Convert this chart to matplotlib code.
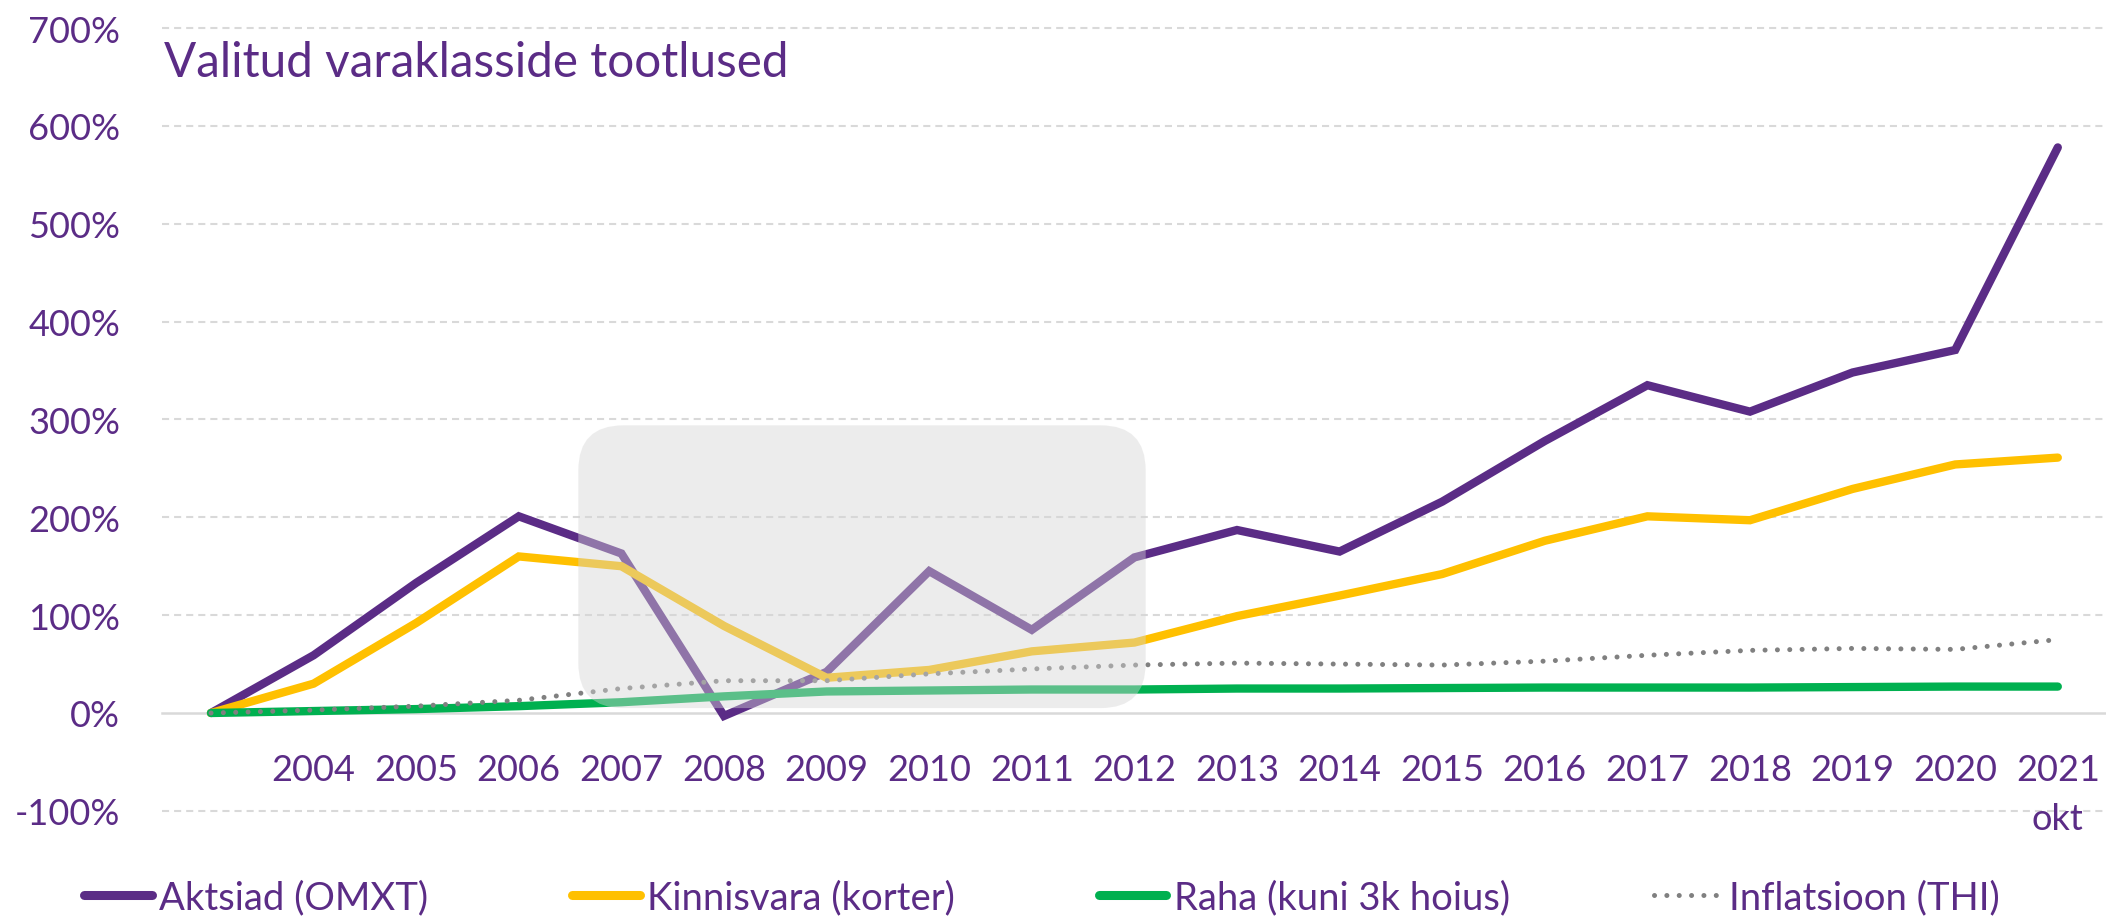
import numpy as np
import matplotlib
matplotlib.use("Agg")
import matplotlib.pyplot as plt
from matplotlib.patches import FancyBboxPatch

plt.rcParams['font.family'] = ['Lato', 'DejaVu Sans']

# ---- data ----
years = ['2003', '2004', '2005', '2006', '2007', '2008', '2009', '2010', '2011', '2012',
         '2013', '2014', '2015', '2016', '2017', '2018', '2019', '2020', '2021\nokt']
aktsiad = [0, 59, 133, 201, 163, -3, 42, 145, 85, 159, 187, 165, 216, 278, 335, 308, 348, 371, 578]
kinnisvara = [0, 30, 92, 160, 150, 89, 36, 44, 63, 72, 99, 120, 142, 176, 201, 197, 229, 254, 261]
raha = [0, 2, 4, 7, 11, 17, 22, 23, 24, 24, 25, 25, 25.5, 26, 26, 26, 26.5, 27, 27]
inflatsioon = [0, 3, 7, 13, 25, 33, 33, 40, 45, 49, 51, 50, 49, 53, 59, 64, 66, 65, 75]
series_names = ['Aktsiad (OMXT)', 'Kinnisvara (korter)', 'Raha (kuni 3k hoius)', 'Inflatsioon (THI)']
yticks = [-100, 0, 100, 200, 300, 400, 500, 600, 700]
title = 'Valitud varaklasside tootlused'

PURPLE = '#5B2C86'
YELLOW = '#FFC000'
GREEN = '#00B050'
GRAY = '#808080'
GRID = '#D9D9D9'

W, H = 2106, 920
fig = plt.figure(figsize=(W / 100, H / 100), dpi=100)

x = np.arange(len(years))
px_per_x = 102.6
x0_px = 211
ax_left_px, ax_right_px = 162, 2106
xlim = (-(x0_px - ax_left_px) / px_per_x, (ax_right_px - x0_px) / px_per_x)
px_per_y = 0.9785
y0_px = 714
ylim = (-103, 703)
top_px = y0_px - ylim[1] * px_per_y
bot_px = y0_px - ylim[0] * px_per_y
ax = fig.add_axes([ax_left_px / W, 1 - bot_px / H, (ax_right_px - ax_left_px) / W, (bot_px - top_px) / H])
ax.set_xlim(*xlim)
ax.set_ylim(*ylim)

# gridlines (dashed), zero line solid
for yv in yticks:
    if yv == 0:
        continue
    ax.axhline(yv, color=GRID, lw=1.5, ls=(0, (3.4, 2.4)), zorder=0)

for s in ['top', 'right', 'left']:
    ax.spines[s].set_visible(False)
ax.spines['bottom'].set_position(('data', 0))
ax.spines['bottom'].set_color(GRID)
ax.spines['bottom'].set_linewidth(1.8)
ax.spines['bottom'].set_zorder(0.5)

lw = 6
ax.plot(x, aktsiad, color=PURPLE, lw=lw, solid_capstyle='round', solid_joinstyle='miter', zorder=2, label=series_names[0])
ax.plot(x, kinnisvara, color=YELLOW, lw=lw, solid_capstyle='round', solid_joinstyle='miter', zorder=3, label=series_names[1])
ax.plot(x, raha, color=GREEN, lw=lw, solid_capstyle='round', zorder=4, label=series_names[2])
ax.plot(x, inflatsioon, color=GRAY, lw=3.6, ls=(0, (0.01, 2.46)), dash_capstyle='round', zorder=5, label=series_names[3])

# translucent rounded highlight box
r_px = 45
bx0, bx1, by0, by1 = 3.58, 9.11, 5, 294
box = FancyBboxPatch((bx0, by0), bx1 - bx0, by1 - by0,
                     boxstyle=f"round,pad=0,rounding_size={r_px / px_per_x}",
                     mutation_aspect=(1 / px_per_y) / (1 / px_per_x),
                     facecolor='#D5D5D5', alpha=0.43, edgecolor='none', zorder=6)
ax.add_patch(box)

# ticks
ax.set_yticks(yticks)
ax.set_yticklabels([f'{v}%' for v in yticks])
ax.set_xticks(x[1:])
ax.set_xticklabels(years[1:], linespacing=1.6)
ax.tick_params(axis='y', length=0, pad=30, labelsize=26, labelcolor=PURPLE)
ax.tick_params(axis='x', length=0, pad=28.5, labelsize=26, labelcolor=PURPLE)

# title
fig.text(164 / W, 1 - 77 / H, title, fontsize=34.3, color=PURPLE, va='baseline', ha='left')

# legend
leg = fig.legend(loc='center left', bbox_to_anchor=(84 / W, 1 - 898 / H), ncol=4, frameon=False,
                 fontsize=27.5, handlelength=1.77, handletextpad=0.2, columnspacing=3.76,
                 borderaxespad=0, borderpad=0)
for t in leg.get_texts():
    t.set_color(PURPLE)
for h in leg.get_lines()[:3]:
    h.set_linewidth(6.5)

fig.savefig('out.png', dpi=100)
